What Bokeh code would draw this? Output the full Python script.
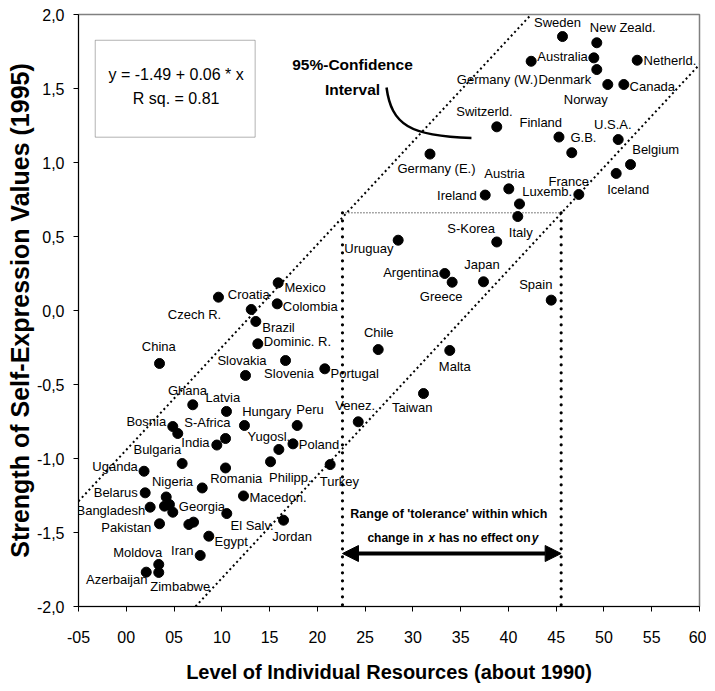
from bokeh.plotting import figure
from bokeh.models import ColumnDataSource, FixedTicker, Label, BoxAnnotation, Arrow, NormalHead
from bokeh.core.properties import value, field
from bokeh.embed import file_html
from bokeh.resources import INLINE

# ---------------- data ----------------
countries = [
    "Sweden", "New Zeald.", "Germany (W.)", "Australia", "Denmark", "Netherld.", "Norway", "Canada",
    "Switzerld.", "Finland", "G.B.", "U.S.A.", "Belgium", "Iceland", "France", "Germany (E.)",
    "Austria", "Ireland", "Luxemb.", "Italy", "S-Korea", "Uruguay", "Argentina", "Greece",
    "Japan", "Spain", "Chile", "Malta", "Taiwan", "Venez.", "Portugal", "Turkey",
    "Mexico", "Croatia", "Czech R.", "Colombia", "Brazil", "Dominic. R.", "China", "Slovakia",
    "Slovenia", "Ghana", "Latvia", "Hungary", "Peru", "Bosnia", "", "S-Africa",
    "India", "Yugosl.", "Poland", "Bulgaria", "Uganda", "", "Philipp.", "Romania",
    "Macedon.", "Belarus", "Bangladesh", "Nigeria", "", "", "Georgia", "El Salv.",
    "", "", "Pakistan", "Jordan", "Egypt", "Iran", "Moldova", "Zimbabwe", "Azerbaijan",
]
resources = [
    45.66, 49.25, 42.38, 48.94, 49.25, 53.48, 50.40, 52.08,
    38.78, 45.29, 46.63, 51.49, 52.78, 51.28, 47.37, 31.79,
    40.04, 37.57, 41.16, 40.98, 38.78, 28.46, 33.34, 34.11,
    37.39, 44.48, 26.37, 33.86, 31.11, 24.28, 20.78, 21.34,
    15.90, 9.65, 13.08, 15.80, 13.56, 13.77, 3.48, 12.48,
    16.67, 6.96, 10.49, 12.37, 17.89, 4.87, 5.39, 10.39,
    9.48, 15.97, 17.45, 5.85, 1.86, 10.39, 15.10, 7.95,
    12.27, 1.98, 2.50, 4.18, 4.00, 4.52, 4.87, 10.52,
    6.55, 7.04, 3.48, 16.46, 8.64, 7.74, 3.40, 3.40, 2.09,
]
self_expression = [
    1.851, 1.809, 1.684, 1.707, 1.628, 1.691, 1.527, 1.527,
    1.241, 1.172, 1.066, 1.155, 0.986, 0.926, 0.784, 1.057,
    0.822, 0.780, 0.720, 0.635, 0.463, 0.475, 0.250, 0.191,
    0.194, 0.070, -0.264, -0.270, -0.561, -0.752, -0.394, -1.041,
    0.187, 0.090, 0.007, 0.045, -0.074, -0.225, -0.358, -0.439,
    -0.338, -0.637, -0.682, -0.777, -0.777, -0.784, -0.831, -0.865,
    -0.909, -0.939, -0.901, -1.034, -1.086, -1.064, -1.022, -1.199,
    -1.253, -1.232, -1.329, -1.260, -1.322, -1.311, -1.363, -1.372,
    -1.446, -1.430, -1.441, -1.417, -1.525, -1.655, -1.716, -1.770, -1.768,
]

x_ticks = [-5, 0, 5, 10, 15, 20, 25, 30, 35, 40, 45, 50, 55, 60]
x_tick_labels = ["-05", "00", "05", "10", "15", "20", "25", "30", "35", "40", "45", "50", "55", "60"]
y_ticks = [-2.0, -1.5, -1.0, -0.5, 0.0, 0.5, 1.0, 1.5, 2.0]
y_tick_labels = ["-2,0", "-1,5", "-1,0", "-0,5", "0,0", "0,5", "1,0", "1,5", "2,0"]

regression_lines = ["y = -1.49 + 0.06 * x", "R sq. = 0.81"]

# confidence band (upper / lower dotted lines) and tolerance range
upper_band_x = [-5.0, 42.38]
upper_band_y = [-1.289, 2.0]
lower_band_x = [7.25, 60.0]
lower_band_y = [-2.0, 1.662]
tolerance_x = [22.63, 45.52]
tolerance_y = 0.66

# ---------------- label layout (pixels) ----------------
label_dx = [
    -5, -7, 6.6, -6, -5.6, 6.3, -22, 5.7,
    -12.3, -18.2, -1.3, -5.4, 1.7, 12, -10, 6.5,
    -4.3, -8.4, 2.7, 3, -25.6, -4.7, -6, -11,
    -1.5, -15.4, 0.5, 5, -11.3, -3, 5.7, 9.3,
    6.3, 9.3, -30, 5.6, 6.4, 6, -0.7, -3.5,
    3.5, -5.3, -3.7, -2.3, 12.8, -6.6, 0, -18.2,
    -7.3, -10, 5.8, -1, -6.2, 0, 19.8, 8,
    6, -7.4, -5, 6.3, 0, 0, 6, 3.7,
    0, 0, -8.3, 8.5, 5.7, -6.7, -21, 21.5, -29.5,
]
label_dy = [
    -14, -15, 18.3, -1.6, 10, 0, 15, 1.7,
    -15.6, -14.2, -15, -15, -15, 16, -13.3, 14.5,
    -15.3, 0.5, -12.8, 15.7, -13.2, 8.6, -1.3, 14,
    -17.3, -15.7, -17.3, 16.3, 14.3, -16, 4.7, 16.7,
    5, -2.7, 5, 3, 6.3, -2, -16.7, -15.3,
    13.3, -14.6, -13.7, -14.3, -15.5, -4.7, 0, -15.7,
    -2.2, -12.7, 0.7, -14, -5.1, 0, 16, -9.2,
    1.8, -0.6, 3, -15.8, 0, 0, -5.4, 12,
    0, 0, 3.4, 16, 5, -5, -11.7, 14.3, 7.3,
]
label_align = [
    "center", "left", "right", "right", "right", "left", "center", "left",
    "center", "center", "left", "center", "left", "center", "center", "center",
    "center", "right", "left", "center", "center", "right", "right", "center",
    "center", "center", "center", "center", "center", "center", "left", "center",
    "left", "left", "right", "left", "left", "left", "center", "center",
    "center", "center", "center", "left", "center", "right", "left", "center",
    "right", "center", "left", "right", "right", "left", "center", "left",
    "left", "right", "right", "center", "left", "left", "left", "left",
    "left", "left", "right", "center", "left", "right", "center", "center", "center",
]

FONT = "Liberation Sans"

src = ColumnDataSource(dict(x=resources, y=self_expression, label=countries,
                            dx=label_dx, dy=label_dy, align=label_align))

p = figure(width=706, height=690, x_range=(-5, 60), y_range=(-2, 2),
           output_backend="svg", toolbar_location=None,
           min_border_left=78, min_border_right=7, min_border_top=14, min_border_bottom=84)
p.xgrid.visible = False
p.ygrid.visible = False
p.background_fill_color = "white"
p.border_fill_color = "white"
p.outline_line_color = "#808080"
p.outline_line_width = 1.5

# axes
p.xaxis.ticker = FixedTicker(ticks=x_ticks)
p.xaxis.major_label_overrides = {t: s for t, s in zip(x_ticks, x_tick_labels)}
p.yaxis.ticker = FixedTicker(ticks=y_ticks)
p.yaxis.major_label_overrides = {t: s for t, s in zip(y_ticks, y_tick_labels)}
for ax in (p.xaxis[0], p.yaxis[0]):
    ax.axis_line_color = "black"
    ax.axis_line_width = 1
    ax.major_tick_line_color = "black"
    ax.major_tick_in = 0
    ax.major_tick_out = 5
    ax.minor_tick_line_color = None
    ax.major_label_text_font = FONT
    ax.major_label_text_font_size = "16px"
    ax.major_label_text_color = "black"
    ax.axis_label_text_font = FONT
    ax.axis_label_text_font_style = "bold"
    ax.axis_label_text_color = "black"
p.xaxis.axis_label = "Level of Individual Resources (about 1990)"
p.xaxis.axis_label_text_font_size = "20px"
p.xaxis.major_label_standoff = 19
p.xaxis.axis_label_standoff = 15
p.yaxis.axis_label = "Strength of Self-Expression Values (1995)"
p.yaxis.axis_label_text_font_size = "25px"
p.yaxis.major_label_standoff = 9
p.yaxis.axis_label_standoff = 0

# confidence band lines
p.line(upper_band_x, upper_band_y, line_color="black", line_width=2, line_dash="2 3")
p.line(lower_band_x, lower_band_y, line_color="black", line_width=2, line_dash="2 3")
# tolerance range
p.line(tolerance_x, [tolerance_y, tolerance_y], line_color="black", line_width=1, line_dash="1 2")
for tx in tolerance_x:
    p.line([tx, tx], [tolerance_y, -2.0], line_color="black", line_width=3.2,
           line_dash="0 8", line_cap="round")

# points and labels
p.scatter("x", "y", source=src, size=10, color="black")
p.text(x="x", y="y", text="label", source=src, x_offset="dx", y_offset="dy",
       text_align=field("align"), text_baseline="middle",
       text_font=value(FONT), text_font_size="13px", text_color="black")

# regression box
p.add_layout(BoxAnnotation(left=-3.25, right=13.49, bottom=1.171, top=1.826,
                           fill_color=None, fill_alpha=0, line_color="black", line_width=1))
for txt, ty in zip(regression_lines, [1.595, 1.430]):
    p.add_layout(Label(x=5.22, y=ty, text=txt, text_align="center", text_baseline="middle",
                       text_font=FONT, text_font_size="16px", text_color="black"))

# confidence interval annotation
for txt, ty in zip(["95%-Confidence", "Interval"], [1.662, 1.493]):
    p.add_layout(Label(x=23.68, y=ty, text=txt, text_align="center", text_baseline="middle",
                       text_font=FONT, text_font_size="15.5px", text_font_style="bold",
                       text_color="black"))
p.bezier(x0=[27.24], y0=[1.507], x1=[36.13], y1=[1.166],
         cx0=[27.76], cy0=[1.257], cx1=[29.65], cy1=[1.176],
         line_color="black", line_width=2.5)

# tolerance annotation
p.add_layout(Arrow(start=NormalHead(size=16, fill_color="black", line_color="black"),
                   end=NormalHead(size=16, fill_color="black", line_color="black"),
                   x_start=tolerance_x[0], y_start=-1.642, x_end=tolerance_x[1], y_end=-1.642,
                   line_color="black", line_width=4))
p.add_layout(Label(x=33.76, y=-1.378, text="Range of 'tolerance' within which",
                   text_align="center", text_baseline="middle", text_font=FONT,
                   text_font_size="12.5px", text_font_style="bold", text_color="black"))
for txt, tx, style, align in [("change in", 31.10, "bold", "right"),
                              ("x", 31.95, "bold italic", "center"),
                              ("has no effect on", 32.70, "bold", "left"),
                              ("y", 42.45, "bold italic", "left")]:
    p.add_layout(Label(x=tx, y=-1.534, text=txt, text_align=align, text_baseline="middle",
                       text_font=FONT, text_font_size="12px", text_font_style=style,
                       text_color="black"))

open("out.html", "w").write(file_html(p, INLINE))
